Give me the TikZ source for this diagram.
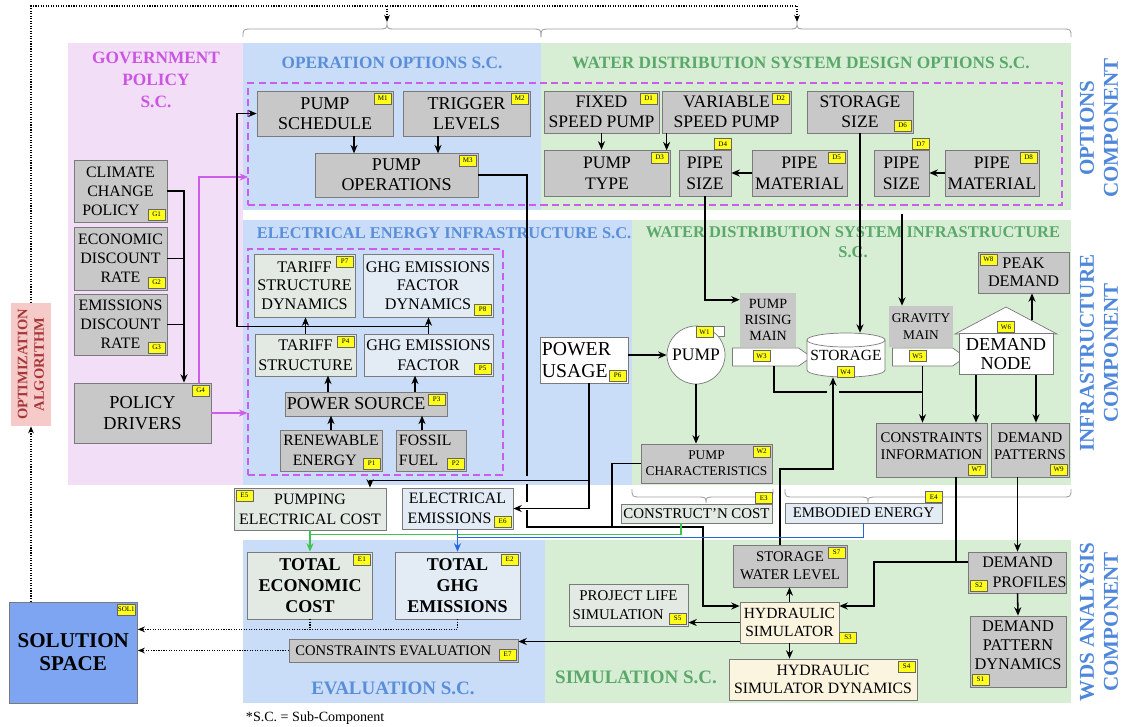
\documentclass[tikz,border=0pt]{standalone}
\usepackage{fontspec}
\setmainfont{Liberation Serif}
\usetikzlibrary{calc,arrows.meta,shapes.symbols}

\definecolor{polpink}{HTML}{F3DEF8}
\definecolor{panelblue}{HTML}{C9DDF8}
\definecolor{panelgreen}{HTML}{D7EED4}
\definecolor{boxgrey}{HTML}{C8C8C8}
\definecolor{edgegrey}{HTML}{7A7A7A}
\definecolor{palegreen}{HTML}{E2EAE3}
\definecolor{paleblue}{HTML}{E3ECF5}
\definecolor{cream}{HTML}{FBF5DF}
\definecolor{tagyellow}{HTML}{FFFF1A}
\definecolor{dashmag}{HTML}{CC5CEB}
\definecolor{titlemag}{HTML}{CB55E2}
\definecolor{titleblue}{HTML}{5A8ED9}
\definecolor{titlegreen}{HTML}{5BA86B}
\definecolor{compblue}{HTML}{4F88DA}
\definecolor{solblue}{HTML}{7EA5F1}
\definecolor{optpink}{HTML}{F7CACA}
\definecolor{optred}{HTML}{A73838}
\definecolor{costgreen}{HTML}{3FC34C}
\definecolor{ghgblue}{HTML}{2168DE}

\begin{document}
\begin{tikzpicture}[x=0.025cm,y=-0.025cm,
    wh/.style 2 args={minimum width=#1*0.025cm,minimum height=#2*0.025cm},
    tx/.style 2 args={font=\fontsize{#1}{#2}\selectfont},
    box/.style={draw=edgegrey,line width=0.5pt,align=center,inner sep=0pt},
    greybox/.style={box,fill=boxgrey},
    greenbox/.style={box,fill=palegreen},
    bluebox/.style={box,fill=paleblue},
    whitebox/.style={box,fill=white},
    simbox/.style={box,fill=cream},
    tag/.style={draw=black!60,line width=0.3pt,fill=tagyellow,inner sep=0.6pt,minimum width=0.42cm,minimum height=0.28cm,font=\fontsize{5}{5}\selectfont},
    tagne/.style={label={[tag,anchor=north east,xshift=-1.5pt,yshift=-1.5pt]north east:#1}},
    tagse/.style={label={[tag,anchor=south east,xshift=-1.5pt,yshift=1.5pt]south east:#1}},
    tagnw/.style={label={[tag,anchor=north west,xshift=1.5pt,yshift=-1.5pt]north west:#1}},
    tagsw/.style={label={[tag,anchor=south west,xshift=1.5pt,yshift=1.5pt]south west:#1}},
    tagup/.style={label={[tag,anchor=south east]north east:#1}},
    conn/.style={line width=1.1pt},
    arr/.style={conn,-{Stealth[length=6pt,width=5pt]}},
    dotline/.style={line width=0.8pt,densely dotted},
    dotarr/.style={dotline,-{Stealth[length=5pt,width=4pt]}},
    magarr/.style={draw=dashmag,line width=1pt,-{Stealth[length=6pt,width=5pt]}},
    greenarr/.style={draw=costgreen,line width=1pt,-{Stealth[length=6pt,width=5pt]}},
    bluearr/.style={draw=ghgblue,line width=1pt,-{Stealth[length=6pt,width=5pt]}},
    dashbox/.style={draw=dashmag,line width=0.9pt,dash pattern=on 5pt off 3pt},
    sctitle/.style={font=\bfseries\fontsize{12.3}{15.5}\selectfont,align=center},
    comp/.style={font=\bfseries\fontsize{15}{17}\selectfont,text=compblue,align=center,rotate=90},
    brace/.style={draw=gray!75,line width=0.6pt}]

    \useasboundingbox (0,0) rectangle (1122,726);

    %panels
    \fill[polpink] (68,43) rectangle (243,485);
    \fill[panelblue] (243,43) rectangle (541,210);
    \fill[panelgreen] (541,43) rectangle (1071,210);
    \fill[panelblue] (243,220) rectangle (632,485);
    \fill[panelgreen] (632,220) rectangle (1071,485);
    \fill[panelblue] (243,540) rectangle (545,703);
    \fill[panelgreen] (545,540) rectangle (1071,703);

    %titles
    \node[sctitle,text=titlemag] (govtitle) at (156,80) {GOVERNMENT\\POLICY\\S.C.};
    \node[sctitle,text=titleblue] (optitle) at (392,63) {OPERATION OPTIONS S.C.};
    \node[sctitle,text=titlegreen] (destitle) at (801,63) {WATER DISTRIBUTION SYSTEM DESIGN OPTIONS S.C.};
    \node[sctitle,text=titleblue,anchor=west,font=\bfseries\fontsize{11.7}{14}\selectfont] (eltitle) at (252,233) {ELECTRICAL ENERGY INFRASTRUCTURE S.C.};
    \node[sctitle,text=titlegreen,font=\bfseries\fontsize{11.7}{14.2}\selectfont] (wdstitle) at (853,242) {WATER DISTRIBUTION SYSTEM INFRASTRUCTURE\\S.C.};
    \node[sctitle,text=titleblue,font=\bfseries\fontsize{13.5}{15}\selectfont] (evaltitle) at (393,688) {EVALUATION S.C.};
    \node[sctitle,text=titlegreen,font=\bfseries\fontsize{13.5}{15}\selectfont] (simtitle) at (636,677) {SIMULATION S.C.};
    \node[comp] (optcomp) at (1099,128) {OPTIONS\\COMPONENT};
    \node[comp] (infcomp) at (1099,353) {INFRASTRUCTURE\\COMPONENT};
    \node[comp] (wdscomp) at (1099,622) {WDS ANALYSIS\\COMPONENT};
    \node[anchor=west,tx={10}{12}] (note) at (241,718) {*S.C. = Sub-Component};

    %dashed groups
    \node[dashbox,wh={814}{122}] (optdash) at (655,144) {};
    \node[dashbox,wh={255}{226}] (pdash) at (375.5,362) {};

    %braces
    \draw[brace] (243,37) .. controls (243,29) .. (253,29) -- (377,29) .. controls (387,29) .. (387,22) .. controls (387,29) .. (397,29) -- (531,29) .. controls (541,29) .. (541,37);
    \draw[brace] (541,37) .. controls (541,29) .. (551,29) -- (787,29) .. controls (797,29) .. (797,22) .. controls (797,29) .. (807,29) -- (1061,29) .. controls (1071,29) .. (1071,37);
    \draw[brace] (632,489) .. controls (632,497) .. (642,497) -- (696,497) .. controls (706,497) .. (706,503) .. controls (706,497) .. (716,497) -- (763,497) .. controls (773,497) .. (773,489);
    \draw[brace] (785,489) .. controls (785,497) .. (795,497) -- (858,497) .. controls (868,497) .. (868,503) .. controls (868,497) .. (878,497) -- (1061,497) .. controls (1071,497) .. (1071,489);

    %government policy
    \node[greybox,wh={93}{62},tx={11.3}{13.5},tagse=G1] (g1) at (120.5,191) {CLIMATE\\CHANGE\\POLICY\hspace*{1.2em}};
    \node[greybox,wh={93}{63},tx={11.3}{13.5},tagse=G2] (g2) at (120.5,258.5) {ECONOMIC\\DISCOUNT\\RATE};
    \node[greybox,wh={93}{61},tx={11.3}{13.5},tagse=G3] (g3) at (120.5,324.5) {EMISSIONS\\DISCOUNT\\RATE};
    \node[greybox,wh={137}{60},tx={13}{14.5},tagne=G4] (g4) at (142.5,413) {POLICY\\DRIVERS};

    %operation options
    \node[greybox,wh={136}{45},tx={12.8}{14},tagne=M1] (m1) at (325,113.5) {PUMP\\SCHEDULE};
    \node[greybox,wh={127}{45},tx={12.8}{14},tagne=M2] (m2) at (466.5,113.5) {TRIGGER\\LEVELS};
    \node[greybox,wh={163}{44},tx={12.8}{14},tagne=M3] (m3) at (396.5,175) {PUMP\\OPERATIONS};

    %design options
    \node[greybox,wh={115}{42},tx={12.5}{14.2},tagne=D1] (d1) at (601.5,112) {FIXED\\SPEED PUMP};
    \node[greybox,wh={129}{42},tx={12.5}{14.2},tagne=D2] (d2) at (726.5,112) {VARIABLE\\SPEED PUMP};
    \node[greybox,wh={106}{42},tx={12.5}{14.2},tagse=D6] (d6) at (860,112) {STORAGE\\SIZE};
    \node[greybox,wh={126}{46},tx={12.5}{15},tagne=D3] (d3) at (607,173) {PUMP\\TYPE};
    \node[greybox,wh={52}{46},tx={12.5}{15},tagup=D4] (d4) at (705,173) {PIPE\\SIZE};
    \node[greybox,wh={95}{46},tx={12.5}{15},tagne=D5] (d5) at (799.5,173) {PIPE\\MATERIAL};
    \node[greybox,wh={55}{46},tx={12.5}{15},tagup=D7] (d7) at (901.5,173) {PIPE\\SIZE};
    \node[greybox,wh={94}{46},tx={12.5}{15},tagne=D8] (d8) at (992,173) {PIPE\\MATERIAL};

    %electrical energy infrastructure
    \node[greenbox,wh={101}{63},tx={11.5}{13},tagne=P7] (p7) at (304.5,285.5) {TARIFF\\STRUCTURE\\DYNAMICS};
    \node[bluebox,wh={130}{63},tx={11.5}{13},tagse=P8] (p8) at (428,285.5) {GHG EMISSIONS\\FACTOR\\DYNAMICS};
    \node[greenbox,wh={101}{42},tx={11.5}{14},tagne=P4] (p4) at (305.5,355) {TARIFF\\STRUCTURE};
    \node[bluebox,wh={129}{42},tx={11.5}{14},tagse=P5] (p5) at (428.5,355) {GHG EMISSIONS\\FACTOR};
    \node[greybox,wh={162}{24},tx={12.8}{14},tagne=P3] (p3) at (366,404) {POWER SOURCE\hspace*{1.1em}};
    \node[greybox,wh={102}{41},tx={11.2}{14},tagse=P1] (p1) at (331,450.5) {RENEWABLE\\ENERGY\hspace*{0.8em}};
    \node[greybox,wh={70}{41},text width=1.6cm,align=left,tx={11.2}{14},tagse=P2] (p2) at (431,450.5) {FOSSIL\\FUEL};
    \node[whitebox,wh={88}{46},text width=2.1cm,align=left,tx={14}{16},tagse=P6] (p6) at (584,360) {POWER\\USAGE};

    %water distribution system infrastructure
    \draw[draw=edgegrey,line width=0.5pt,fill=white] (700,326) rectangle (724,336);
    \node[circle,draw=edgegrey,line width=0.5pt,fill=white,minimum size=58*0.025cm,inner sep=0pt,tx={12.5}{14}] (w1) at (696,355) {PUMP};
    \node[tag] (w1tag) at (704.5,332) {W1};
    \node[fill=boxgrey,wh={56}{54},align=center,inner sep=0pt,tx={10}{11.5}] (prm) at (768,320) {PUMP\\RISING\\MAIN};
    \node[signal,signal to=east,signal pointer angle=70,draw=edgegrey,line width=0.5pt,fill=white,wh={79}{18},inner sep=0pt] (w3) at (765.5,357) {};
    \node[tag] (w3tag) at (761.5,356) {W3};
    \draw[draw=edgegrey,line width=0.5pt,fill=white] (807,340) -- (807,370) arc[start angle=180,end angle=360,x radius=0.975cm,y radius=0.175cm] -- (885,340);
    \draw[draw=edgegrey,line width=0.5pt,fill=white] (846,340) ellipse [x radius=0.975cm,y radius=0.175cm];
    \node[wh={78}{44},inner sep=0pt,tx={11}{13}] (w4) at (846,355) {STORAGE};
    \node[tag] (w4tag) at (845.5,372) {W4};
    \node[fill=boxgrey,wh={64}{41},align=center,inner sep=0pt,tx={9.5}{11.5}] (gm) at (921,326.5) {GRAVITY\\MAIN};
    \node[signal,signal to=east,signal pointer angle=70,draw=edgegrey,line width=0.5pt,fill=white,wh={73}{18},inner sep=0pt] (w5) at (922.5,357) {};
    \node[tag] (w5tag) at (917.5,356) {W5};
    \draw[draw=edgegrey,line width=0.5pt,fill=white] (955,334) -- (1006,307) -- (1057,334) -- cycle;
    \node[whitebox,wh={94}{41},tx={13}{13}] (w6) at (1006,354) {DEMAND\\NODE};
    \node[tag] (w6tag) at (1006,327) {W6};
    \node[greybox,wh={91}{41},tx={11.5}{13},tagnw=W8] (w8) at (1023.5,272.5) {PEAK\\DEMAND};
    \node[greybox,wh={131}{39},tx={9.5}{11.5},tagne=W2] (w2) at (706.5,463.5) {PUMP\\CHARACTERISTICS};
    \node[greybox,wh={111}{54},tx={10.5}{12},tagse=W7] (w7) at (931.5,450) {CONSTRAINTS\\INFORMATION\\[-6pt]\mbox{}};
    \node[greybox,wh={78}{54},tx={10.5}{12},tagse=W9] (w9) at (1030,450) {DEMAND\\PATTERNS\\[-6pt]\mbox{}};

    %evaluation
    \node[greenbox,wh={152}{42},tx={11.3}{14},tagnw=E5] (e5) at (310,509) {PUMPING\\ELECTRICAL COST};
    \node[bluebox,wh={111}{41},tx={11.3}{14},tagse=E6] (e6) at (457.5,508.5) {ELECTRICAL\\EMISSIONS\hspace*{1em}};
    \node[greenbox,wh={151}{19},tx={10.6}{12},tagup=E3] (e3) at (696.5,513.5) {CONSTRUCT'N COST};
    \node[bluebox,wh={157}{20},tx={10.5}{12},tagup=E4] (e4) at (863.5,513) {EMBODIED ENERGY};
    \node[greenbox,wh={124.5}{67},font=\bfseries\fontsize{12.8}{15}\selectfont,tagne=E1] (e1) at (310,585.5) {TOTAL\\ECONOMIC\\COST};
    \node[bluebox,wh={125}{67},font=\bfseries\fontsize{12.8}{15}\selectfont,tagne=E2] (e2) at (457.5,585.5) {TOTAL\\GHG\\EMISSIONS};
    \node[greybox,wh={229}{23},tx={10.4}{12},tagse=E7] (e7) at (403.5,650.5) {CONSTRAINTS EVALUATION\hspace*{1.4em}};
    \node[box,fill=solblue,wh={128.5}{101},font=\bfseries\fontsize{15}{16.3}\selectfont,tagne=SOL1] (sol) at (73.25,652.5) {SOLUTION\\SPACE};
    \node[fill=optpink,wh={40}{123}] (opt) at (31,364.5) {};
    \node[rotate=90,font=\bfseries\fontsize{10.3}{11.7}\selectfont,text=optred,align=center] (optlabel) at (opt.center) {OPTIMIZATION\\ALGORITHM};

    %simulation
    \node[greybox,wh={114}{42},tx={10.5}{13},tagne=S7] (s7) at (790,566) {STORAGE\\WATER LEVEL};
    \node[simbox,wh={99}{41},tx={11}{13},label={[tag,anchor=south west]south east:S3}] (s3) at (789.5,622.5) {HYDRAULIC\\SIMULATOR};
    \node[simbox,wh={188}{41},tx={11.2}{13},tagne=S4] (s4) at (823,679.5) {HYDRAULIC\\SIMULATOR DYNAMICS};
    \node[greenbox,wh={119}{42},tx={10.6}{13},tagse=S5] (s5) at (628.5,605) {PROJECT LIFE\\SIMULATION\hspace*{1.4em}};
    \node[greybox,wh={97}{41},tx={11.4}{14},tagsw=S2] (s2) at (1017.5,572.5) {DEMAND\\\hspace*{1.5em}PROFILES};
    \node[greybox,wh={96}{71},tx={11.6}{13.5},tagsw=S1] (s1) at (1018,651.5) {DEMAND\\PATTERN\\DYNAMICS\\[-4pt]\mbox{}};

    %policy links
    \coordinate (gbus) at ($(g4.north)+(41.5,0)$);
    \draw[arr] (g1.east) -| (gbus);
    \draw[conn] (g2.east) -- (g2.east -| gbus);
    \draw[conn] (g3.east) -- (g3.east -| gbus);
    \coordinate (optin) at (248,177);
    \draw[magarr] ($(g4.north)+(56.5,0)$) |- (optin);
    \draw[magarr] (g4.east) -- (g4.east -| pdash.west);

    %options links
    \draw[arr] ($(m1.south)+(29,0)$) -- ++(0,17);
    \draw[arr] ($(m2.south)+(-28.5,0)$) -- ++(0,17);
    \draw[arr] (d1.south) -- (d1.south |- d3.north);
    \draw[arr] ($(d2.south west)+(5,0)$) -- ++(0,17);
    \draw[arr] (d5.west) -- (d4.east);
    \draw[arr] (d8.west) -- (d7.east);

    %electrical links
    \draw[arr] (p1.north) -- ++(0,-14);
    \draw[arr] ($(p2.north)+(-9,0)$) -- ++(0,-14);
    \draw[arr] ($(p3.north)+(-38,0)$) -- ++(0,-16);
    \draw[arr] ($(p3.north)+(49,0)$) -- ++(0,-16);
    \draw[arr] (p4.north) -- (p4.north |- p7.south);
    \draw[arr] (p5.north) -- (p5.north |- p8.south);
    \draw[arr] (p5.north) -- ++(0,-7) -| (237,113.5) -- (m1.west);

    %power usage links
    \draw[arr] (p6.east |- w1.west) -- (w1.west);
    \draw[arr] ($(p6.south)+(5,0)$) |- (e6.east);
    \draw[arr] ($(p6.south)+(5,0)$) ++(0,97) -| ($(e5.north)+(60,0)$);

    %pump operations and characteristics to simulator
    \draw[arr] (m3.east) -| (527,476) (527,484) -- (527,502) (527,510) -- (527,527) -- (703,527) |- ($(s3.west)+(0,-16.5)$);
    \draw[conn] (w2.west) -| (612,527);

    %infrastructure links
    \draw[arr] (d4.south) |- ($(prm.north west)+(0,7)$);
    \draw[arr] (d6.south) -- (d6.south |- w4.north);
    \coordinate (gravtop) at (902,214);
    \draw[arr] (gravtop) -- (gravtop |- gm.north);
    \draw[arr] (w1.south) -- (w1.south |- w2.north);
    \draw[conn] ($(w3.south)+(8.5,0)$) |- (827,392) (839,392) -- (922.5,392);
    \draw[arr] (w5.south) -- (w5.south |- w7.north);
    \draw[arr] ($(w6.north)+(26,-13)$) -- ($(w8.south)+(8.5,0)$);
    \draw[arr] ($(w6.south)+(-30,0)$) -- ($(w7.north)+(44.5,0)$);
    \draw[arr] ($(w6.south)+(30,0)$) -- ($(w9.north)+(6,0)$);
    \draw[arr] ($(s7.north)+(-10,0)$) |- (833,469) -- ($(w4.south)+(-13,0)$);

    %evaluation links
    \draw[greenarr] ($(e3.south)+(-15.5,0)$) -- ++(0,11) -| (e1.north);
    \draw[draw=costgreen,line width=1pt] (e5.south) -- ++(0,4);
    \draw[bluearr] (e4.south) -- ++(0,14) -| (e2.north);
    \draw[draw=ghgblue,line width=1pt] (e6.south) -- ++(0,8.5);

    %simulation links
    \draw[arr] (s3.north) -- (s3.north |- s7.south);
    \draw[arr] (s3.south) -- (s3.south |- s4.north);
    \draw[arr] (s3.west) -- (s3.west -| s5.east);
    \draw[arr] ($(s3.west)+(0,19)$) -- ($(e7.east)+(0,-9)$);
    \draw[arr] ($(s2.north west)+(0,10.5)$) -| (874,606) -- ($(s3.east)+(0,-16.5)$);
    \draw[conn] ($(w7.south)+(24.5,0)$) -- ++(0,86);
    \draw[arr] (s2.north |- w9.south) -- (s2.north);
    \draw[arr] (s2.south) -- (s1.north);

    %results to solution space
    \draw[dotarr] (e2.south) -- ++(0,10) coordinate (evalout) -- (sol.east |- evalout);
    \draw[dotline] (e1.south) -- (e1.south |- evalout);
    \draw[dotarr] (e7.west) -- (sol.east |- e7.west);

    %optimization loop
    \draw[dotarr] (sol.north -| opt.south) -- (opt.south);
    \coordinate (brtip1) at (387,22);
    \coordinate (brtip2) at (797,22);
    \draw[dotline] (opt.north) |- ($(brtip2)+(0,-16)$);
    \draw[dotarr] ($(brtip1)+(0,-16)$) -- (brtip1);
    \draw[dotarr] ($(brtip2)+(0,-16)$) -- (brtip2);
\end{tikzpicture}
\end{document}
